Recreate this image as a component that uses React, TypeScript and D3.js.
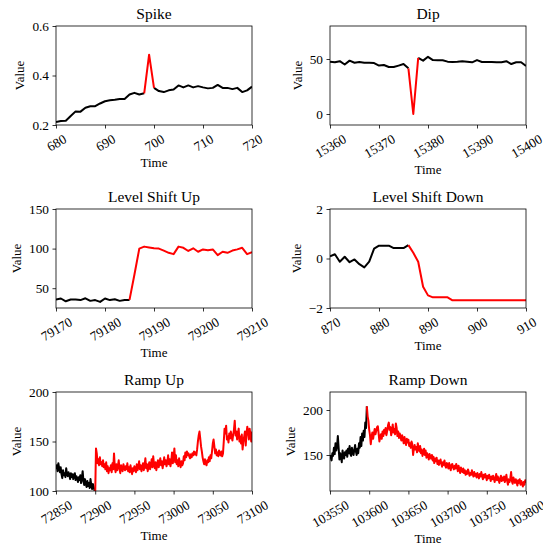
import React, { useEffect, useRef } from 'react';
import * as d3 from 'd3';

// ---- data ----
const spikeStart = 680;
const spikeValues = [
  0.212, 0.216, 0.217, 0.236, 0.255, 0.254, 0.27, 0.276, 0.276, 0.287,
  0.296, 0.3, 0.302, 0.305, 0.305, 0.323, 0.33, 0.323, 0.328, 0.484,
  0.35, 0.337, 0.333, 0.34, 0.343, 0.36, 0.352, 0.36, 0.352, 0.357,
  0.352, 0.348, 0.35, 0.362, 0.35, 0.35, 0.345, 0.35, 0.333, 0.34,
  0.355,
];
const spikeAnomaly = [698, 700];
const spikeXTicks = [680, 690, 700, 710, 720];
const spikeYTicks = [0.2, 0.4, 0.6];

const dipStart = 15360;
const dipValues = [
  47.6, 47, 48, 45, 48.5, 46.6, 47.3, 46.6, 46.6, 46.3,
  44, 44.5, 42.7, 42.7, 44, 45.4, 41.5, 0, 51, 48.5,
  52, 49, 48.8, 48.8, 47.6, 47.3, 47.6, 48, 47.6, 47,
  49, 47.3, 47.3, 47.3, 47, 47, 48, 45.4, 47, 47,
  43.6,
];
const dipAnomaly = [15376, 15378];
const dipXTicks = [15360, 15370, 15380, 15390, 15400];
const dipYTicks = [0, 50];

const shiftUpStart = 79170;
const shiftUpValues = [
  35.7, 37, 33.5, 35.7, 35.7, 35, 37.3, 34, 35, 32.7,
  37, 35, 36, 34, 35.2, 35.2, 67, 100, 102.5, 101.5,
  100.5, 100, 97.5, 94.7, 93, 102.5, 101, 97, 100.4, 96,
  99, 98, 99, 91.8, 96, 94.7, 97.5, 99, 101, 93,
  95.6,
];
const shiftUpAnomaly = [79185, 79210];
const shiftUpXTicks = [79170, 79180, 79190, 79200, 79210];
const shiftUpYTicks = [50, 100, 150];

const shiftDownStart = 870;
const shiftDownValues = [
  0.09, 0.17, -0.13, 0.07, -0.15, -0.04, -0.23, -0.36, -0.13, 0.4,
  0.52, 0.52, 0.52, 0.42, 0.42, 0.42, 0.54, 0.23, -0.13, -1.14,
  -1.49, -1.57, -1.57, -1.57, -1.57, -1.69, -1.69, -1.69, -1.69, -1.69,
  -1.69, -1.69, -1.69, -1.69, -1.69, -1.69, -1.69, -1.69, -1.69, -1.69,
  -1.69,
];
const shiftDownAnomaly = [886, 910];
const shiftDownXTicks = [870, 880, 890, 900, 910];
const shiftDownYTicks = [-2, 0, 2];

const rampUpStart = 72850;
const rampUpValues = [
  122, 126, 120, 128, 123, 119, 124, 117, 113, 121,
  116, 118, 114, 123, 117, 115, 119, 116, 112, 118,
  114, 117, 112, 116, 118, 111, 115, 113, 109, 114,
  111, 116, 108, 113, 120, 110, 106, 112, 108, 104,
  110, 105, 108, 103, 112, 106, 102, 107, 104, 101,
  97, 143, 138, 128, 132, 126, 134, 127, 129, 125,
  131, 124, 127, 122, 129, 120, 125, 118, 123, 121,
  126, 119, 128, 122, 138, 124, 119, 127, 121, 125,
  131, 122, 118, 126, 123, 120, 127, 124, 121, 125,
  122, 128, 120, 124, 119, 126, 121, 117, 123, 120,
  125, 122, 119, 127, 121, 124, 130, 122, 126, 120,
  124, 128, 121, 126, 133, 123, 127, 120, 125, 129,
  122, 126, 132, 124, 135, 127, 123, 129, 121, 126,
  131, 124, 128, 133, 126, 130, 123, 128, 134, 127,
  131, 125, 129, 136, 127, 132, 125, 130, 139, 128,
  134, 143, 129, 136, 127, 131, 125, 133, 128, 124,
  130, 126, 128, 135, 131, 139, 134, 140, 136, 138,
  135, 133, 137, 134, 138, 136, 140, 137, 139, 136,
  142, 150, 156, 160, 153, 145, 140, 134, 130, 127,
  132, 128, 126, 131, 129, 134, 130, 136, 133, 140,
  148, 152, 145, 138, 142, 136, 139, 135, 141, 137,
  136, 140, 135, 138, 150, 163, 158, 166, 152, 155,
  149, 158, 153, 160, 155, 151, 157, 162, 171, 156,
  160, 152, 158, 163, 150, 155, 148, 157, 142, 150,
  155, 160, 146, 158, 165, 160, 152, 163, 157, 150,
  160,
];
const rampUpAnomaly = [72900, 73100];
const rampUpXTicks = [72850, 72900, 72950, 73000, 73050, 73100];
const rampUpYTicks = [100, 150, 200];

const rampDownStart = 103550;
const rampDownValues = [
  150, 147, 144, 152, 149, 158, 151, 163, 155, 160,
  171, 158, 145, 152, 148, 142, 155, 149, 146, 153,
  150, 155, 148, 157, 152, 160, 151, 149, 158, 153,
  150, 156, 161, 154, 150, 157, 152, 163, 158, 170,
  160, 174, 166, 177, 170, 186, 180, 204, 193, 188,
  178, 172, 162, 170, 175, 168, 174, 179, 173, 177,
  181, 182, 174, 165, 170, 173, 168, 176, 171, 178,
  174, 180, 172, 177, 183, 186, 178, 181, 172, 176,
  184, 175, 179, 173, 185, 180, 171, 176, 169, 174,
  170, 166, 172, 168, 163, 170, 165, 161, 168, 164,
  167, 160, 163, 158, 165, 162, 150, 157, 161, 156,
  159, 153, 163, 158, 154, 160, 152, 156, 149, 153,
  157, 150, 155, 147, 152, 149, 145, 151, 148, 146,
  150, 144, 148, 141, 146, 143, 147, 140, 144, 139,
  143, 145, 140, 137, 142, 139, 144, 138, 136, 141,
  139, 135, 141, 137, 133, 139, 140, 136, 134, 138,
  135, 140, 137, 132, 138, 134, 130, 136, 133, 131,
  135, 130, 133, 128, 132, 129, 134, 131, 127, 130,
  128, 133, 129, 126, 131, 127, 129, 125, 130, 127,
  124, 129, 126, 131, 127, 123, 128, 125, 129, 126,
  122, 127, 124, 128, 125, 121, 126, 123, 127, 124,
  120, 125, 129, 122, 126, 123, 119, 124, 127, 121,
  125, 122, 126, 120, 124, 128, 121, 117, 123, 120,
  124, 131, 121, 118, 125, 122, 119, 123, 120, 116,
  122, 119, 123, 117, 121, 118, 115, 120, 117, 122,
  119,
];
const rampDownAnomaly = [103597, 103800];
const rampDownXTicks = [103550, 103600, 103650, 103700, 103750, 103800];
const rampDownYTicks = [150, 200];

const panels = [
  { title: 'Spike', start: spikeStart, values: spikeValues, anomaly: spikeAnomaly, xTicks: spikeXTicks, yTicks: spikeYTicks, yDomain: [0.2, 0.6], yFmt: '.1f' },
  { title: 'Dip', start: dipStart, values: dipValues, anomaly: dipAnomaly, xTicks: dipXTicks, yTicks: dipYTicks, yDomain: [-10, 80], yFmt: 'd' },
  { title: 'Level Shift Up', start: shiftUpStart, values: shiftUpValues, anomaly: shiftUpAnomaly, xTicks: shiftUpXTicks, yTicks: shiftUpYTicks, yDomain: [25, 150], yFmt: 'd' },
  { title: 'Level Shift Down', start: shiftDownStart, values: shiftDownValues, anomaly: shiftDownAnomaly, xTicks: shiftDownXTicks, yTicks: shiftDownYTicks, yDomain: [-2, 2], yFmt: 'd' },
  { title: 'Ramp Up', start: rampUpStart, values: rampUpValues, anomaly: rampUpAnomaly, xTicks: rampUpXTicks, yTicks: rampUpYTicks, yDomain: [100, 200], yFmt: 'd' },
  { title: 'Ramp Down', start: rampDownStart, values: rampDownValues, anomaly: rampDownAnomaly, xTicks: rampDownXTicks, yTicks: rampDownYTicks, yDomain: [110, 220], yFmt: 'd' },
];

const width = 543;
const height = 544;
const colLeft = [56, 330];
const rowTop = [26, 209, 392];
const plotW = 196;
const plotH = 99;
const font = '"Liberation Serif", "Times New Roman", serif';
const tickFont = 13.3;
const labelFont = 13;
const titleFont = 15.5;

const App = () => {
  const svgRef = useRef(null);

  useEffect(() => {
    document.body.style.margin = '0';
    const svg = d3.select(svgRef.current);
    svg.selectAll('*').remove();

    panels.forEach((p, i) => {
      const left = colLeft[i % 2];
      const top = rowTop[Math.floor(i / 2)];
      const bottom = top + plotH;
      const pts = p.values.map((v, k) => [p.start + k, v]);
      const x = d3.scaleLinear()
        .domain([p.xTicks[0], p.xTicks[p.xTicks.length - 1]])
        .range([left, left + plotW]);
      const y = d3.scaleLinear().domain(p.yDomain).range([bottom, top]);

      const g = svg.append('g');
      const clipId = `clip-${i}`;
      g.append('clipPath').attr('id', clipId)
        .append('rect')
        .attr('x', left).attr('y', top)
        .attr('width', plotW).attr('height', plotH);

      const line = d3.line().x(d => x(d[0])).y(d => y(d[1]));
      const [a0, a1] = p.anomaly;
      const pre = pts.filter(d => d[0] <= a0);
      const post = pts.filter(d => d[0] >= a1);
      const red = pts.filter(d => d[0] >= a0 && d[0] <= a1);

      [pre, post].forEach(seg => {
        if (seg.length < 2) return;
        g.append('path')
          .attr('d', line(seg))
          .attr('clip-path', `url(#${clipId})`)
          .attr('fill', 'none')
          .attr('stroke', '#000')
          .attr('stroke-width', 2)
          .attr('stroke-linejoin', 'round');
      });
      g.append('path')
        .attr('d', line(red))
        .attr('clip-path', `url(#${clipId})`)
        .attr('fill', 'none')
        .attr('stroke', '#ff0000')
        .attr('stroke-width', 2)
        .attr('stroke-linejoin', 'round');

      // frame
      g.append('rect')
        .attr('x', left).attr('y', top)
        .attr('width', plotW).attr('height', plotH)
        .attr('fill', 'none')
        .attr('stroke', '#000')
        .attr('stroke-width', 0.8);

      // x axis
      const xAxis = d3.axisBottom(x).tickValues(p.xTicks).tickSize(3.5).tickFormat(d3.format('d'));
      const gx = g.append('g').attr('transform', `translate(0,${bottom})`).call(xAxis);
      gx.select('.domain').remove();
      gx.selectAll('line').attr('stroke', '#000').attr('stroke-width', 0.8);
      let maxRot = 0;
      gx.selectAll('text')
        .attr('font-family', font)
        .attr('font-size', tickFont)
        .attr('fill', '#000')
        .each(function () {
          const w = this.getComputedTextLength();
          const rotH = w * 0.5 + tickFont * 0.866;
          maxRot = Math.max(maxRot, rotH);
          d3.select(this)
            .attr('y', 0)
            .attr('dy', '0.35em')
            .attr('text-anchor', 'middle')
            .attr('transform', `translate(0,${7 + rotH / 2}) rotate(-30)`);
        });

      // y axis
      const yAxis = d3.axisLeft(y).tickValues(p.yTicks).tickSize(3.5).tickPadding(3.5).tickFormat(d3.format(p.yFmt));
      const gy = g.append('g').attr('transform', `translate(${left},0)`).call(yAxis);
      gy.select('.domain').remove();
      gy.selectAll('line').attr('stroke', '#000').attr('stroke-width', 0.8);
      let maxW = 0;
      gy.selectAll('text')
        .attr('font-family', font)
        .attr('font-size', tickFont)
        .attr('fill', '#000')
        .each(function () {
          maxW = Math.max(maxW, this.getComputedTextLength());
        });

      // labels
      g.append('text')
        .attr('x', left + plotW / 2)
        .attr('y', top - 7)
        .attr('text-anchor', 'middle')
        .attr('font-family', font)
        .attr('font-size', titleFont)
        .text(p.title);

      g.append('text')
        .attr('x', left + plotW / 2)
        .attr('y', bottom + 7 + maxRot + 3 + 10.5)
        .attr('text-anchor', 'middle')
        .attr('font-family', font)
        .attr('font-size', labelFont)
        .text('Time');

      const lx = left - 7 - maxW - 6 - labelFont / 2;
      g.append('text')
        .attr('transform', `translate(${lx},${top + plotH / 2}) rotate(-90)`)
        .attr('text-anchor', 'middle')
        .attr('dy', '0.35em')
        .attr('font-family', font)
        .attr('font-size', labelFont)
        .text('Value');
    });
  }, []);

  return <svg ref={svgRef} width={width} height={height} style={{ display: 'block', background: '#fff' }}></svg>;
};

export default App;
